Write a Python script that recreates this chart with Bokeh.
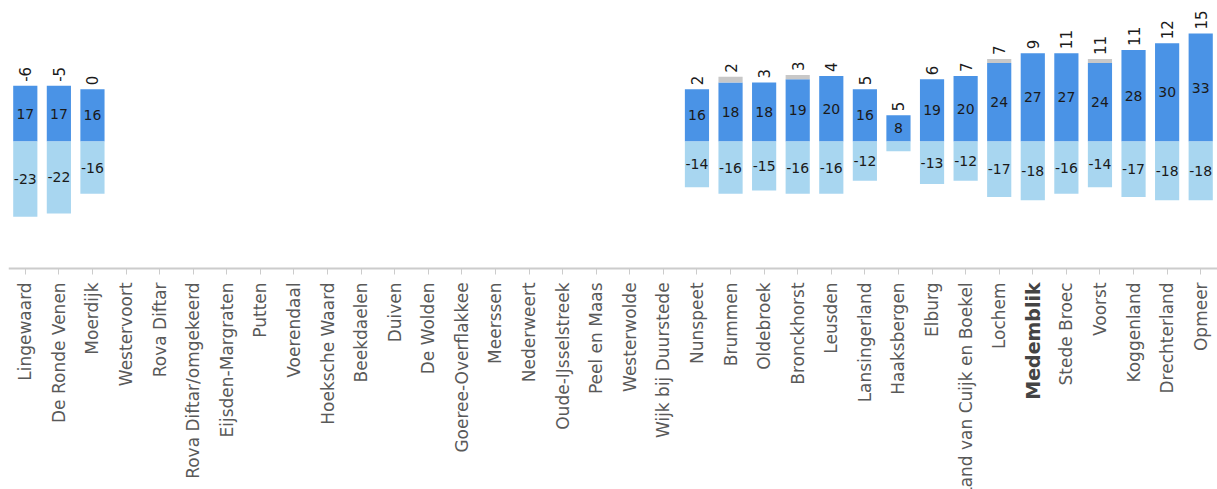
import math
from bokeh.plotting import figure
from bokeh.models import ColumnDataSource, FactorRange, Range1d, CustomJSTickFormatter
from bokeh.core.properties import value
from bokeh.embed import file_html
from bokeh.resources import INLINE

categories = [
    "Lingewaard", "De Ronde Venen", "Moerdijk", "Westervoort", "Rova Diftar",
    "Rova Diftar/omgekeerd", "Eijsden-Margraten", "Putten", "Voerendaal",
    "Hoeksche Waard", "Beekdaelen", "Duiven", "De Wolden", "Goeree-Overflakkee",
    "Meerssen", "Nederweert", "Oude-IJsselstreek", "Peel en Maas", "Westerwolde",
    "Wijk bij Duurstede", "Nunspeet", "Brummen", "Oldebroek", "Bronckhorst",
    "Leusden", "Lansingerland", "Haaksbergen", "Elburg", "Land van Cuijk en Boekel",
    "Lochem", "Medemblik", "Stede Broec", "Voorst", "Koggenland", "Drechterland",
    "Opmeer",
]
N = None
positive = [17, 17, 16] + [N] * 17 + [16, 18, 18, 19, 20, 16, 8, 19, 20, 24, 27, 27, 24, 28, 30, 33]
negative = [-23, -22, -16] + [N] * 17 + [-14, -16, -15, -16, -16, -12, -3, -13, -12, -17, -18, -16, -14, -17, -18, -18]
unknown = [0, 0, 0] + [N] * 17 + [0, 1.8, 0, 1.3, 0, 0, 0, 0, 0, 1.2, 0, 0, 1.2, 0, 0, 0]
net = [-6, -5, 0] + [N] * 17 + [2, 2, 3, 3, 4, 5, 5, 6, 7, 7, 9, 11, 11, 11, 12, 15]
highlight = "Medemblik"

DARK = "#4a93e6"
LIGHT = "#a8d6f0"
GRAY = "#c8c8c8"
FONT = "DejaVu Sans"

rows = [i for i, v in enumerate(positive) if v is not None]
cats = [categories[i] for i in rows]
pos = [positive[i] for i in rows]
neg = [negative[i] for i in rows]
unk = [unknown[i] for i in rows]
tot = [p_ + u for p_, u in zip(pos, unk)]

src = ColumnDataSource(dict(
    cat=cats, pos=pos, neg=neg, tot=tot, zero=[0] * len(cats),
    pos_mid=[v / 2 for v in pos], neg_mid=[v / 2 for v in neg],
    pos_lbl=[str(v) if abs(v) >= 5 else "" for v in pos],
    neg_lbl=[str(v) if abs(v) >= 5 else "" for v in neg],
    net_lbl=[str(net[i]) for i in rows],
))

# vertical layout: zero line ~141 px below frame top, ~3.27 px per unit
y_start, y_end = -106.4, 43.1
axis_y = -38.8

p = figure(width=1217, height=489, x_range=FactorRange(factors=categories, range_padding=0),
           y_range=Range1d(y_start, y_end), output_backend="svg", toolbar_location=None,
           min_border=0, min_border_left=8)
p.outline_line_color = None
p.grid.visible = False
p.yaxis.visible = False

W = 0.72
p.vbar(x="cat", bottom="zero", top="pos", width=W, source=src, fill_color=DARK, line_color=None)
p.vbar(x="cat", bottom="pos", top="tot", width=W, source=src, fill_color=GRAY, line_color=None)
p.vbar(x="cat", bottom="neg", top="zero", width=W, source=src, fill_color=LIGHT, line_color=None)

p.text(x="cat", y="pos_mid", text="pos_lbl", source=src, text_align="center", text_baseline="middle",
       text_font=value(FONT), text_font_size="14px", text_color="#1a1a1a")
p.text(x="cat", y="neg_mid", text="neg_lbl", source=src, text_align="center", text_baseline="middle",
       text_font=value(FONT), text_font_size="14px", text_color="#1a1a1a")
p.text(x="cat", y="tot", text="net_lbl", source=src, angle=math.pi / 2, text_align="left",
       text_baseline="middle", y_offset=-4, text_font=value(FONT), text_font_size="15px",
       text_color="#1a1a1a")

ax = p.xaxis[0]
ax.fixed_location = axis_y
ax.axis_line_color = "#cccccc"
ax.axis_line_width = 2
ax.major_tick_line_color = "#cccccc"
ax.major_tick_out = 6
ax.major_tick_in = 0
ax.minor_tick_line_color = None
ax.major_label_standoff = 8
ax.major_label_orientation = math.pi / 2
ax.major_label_text_font = FONT
ax.major_label_text_font_size = "17px"
ax.major_label_text_color = "#595959"
ax.formatter = CustomJSTickFormatter(args=dict(hl=highlight),
                                     code="return tick == hl ? '' : tick;")

hl_src = ColumnDataSource(dict(cat=[highlight], y=[axis_y], text=[highlight]))
p.text(x="cat", y="y", text="text", source=hl_src, angle=math.pi / 2, text_align="right",
       text_baseline="middle", y_offset=14, text_font=value(FONT), text_font_size="19px",
       text_font_style="bold", text_color="#444444")

open("out.html", "w").write(file_html(p, INLINE))
